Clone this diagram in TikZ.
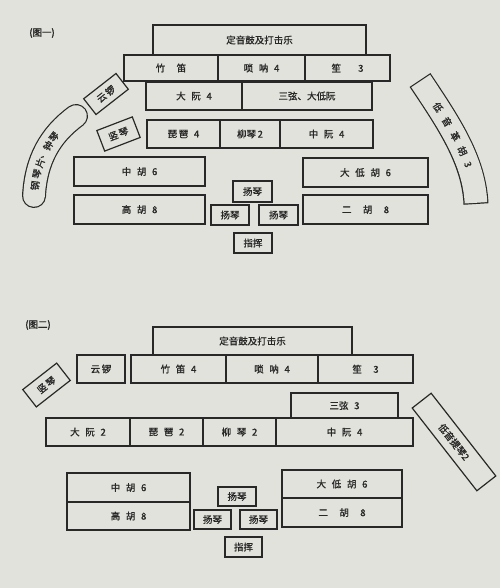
\documentclass[tikz,border=0pt]{standalone}
\usepackage{fontspec}
\newfontfamily\cjk[FakeBold=1.2]{Noto Sans CJK SC}
\definecolor{paper}{RGB}{226,226,220}
\definecolor{ink}{RGB}{40,40,40}
\newcommand\mylbl{\cjk\fontsize{9.5}{10}\selectfont}
\newcommand\mgap{\hspace{0.6em}}
\tikzset{
  box/.style 2 args={draw=ink, line width=1.2pt, minimum width=#1pt, minimum height=#2pt,
    inner sep=0pt, font=\mylbl, text=ink},
  archar/.style={font=\mylbl, text=ink, inner sep=0pt, sloped},
  title/.style={font=\mylbl, text=ink, inner sep=0pt}
}
\begin{document}
\begin{tikzpicture}[x=1pt, y=-1pt]
\fill[paper] (0,0) rectangle (500,588);
\useasboundingbox (0,0) rectangle (500,588);

% ---------------- Diagram 1 ----------------
\node[title] (t1) at (42,33) {(图一)};
\node[box={213}{30}] (a1) at (259.5,40) {定音鼓及打击乐};
\node[box={94}{26}] (a2) at (171,68) {竹\mgap\mgap 笛};
\node[box={87}{26}] (a3) at (261.5,68) {唢\mgap 呐\mgap 4};
\node[box={85}{26}] (a4) at (347.5,68) {笙\mgap\mgap\mgap 3};
\node[box={96}{28}] (a5) at (194,96) {大\mgap 阮\mgap 4};
\node[box={130}{28}] (a6) at (307,96) {三弦、大低阮};
\node[box={73}{28}] (a7) at (183.5,134) {琵\,琶\mgap 4};
\node[box={60}{28}] (a8) at (250,134) {柳琴\,2};
\node[box={93}{28}] (a9) at (326.5,134) {中\mgap 阮\mgap 4};
\node[box={41}{20}, rotate=38] (a10) at (106,94) {云\,锣};
\node[box={38}{22}, rotate=21] (a11) at (118.5,134) {竖\,琴};
\node[box={131}{29}] (a12) at (139.5,171.5) {中\mgap 胡\mgap 6};
\node[box={131}{29}] (a13) at (139.5,209.5) {高\mgap 胡\mgap 8};
\node[box={125}{29}] (a14) at (365.5,172.5) {大\mgap 低\mgap 胡\mgap 6};
\node[box={125}{29}] (a15) at (365.5,209.5) {二\mgap\mgap 胡\mgap\mgap 8};
\node[box={39}{21}] (a16) at (252.5,191.5) {扬琴};
\node[box={38}{20}] (a17) at (230,215) {扬琴};
\node[box={39}{20}] (a18) at (278.5,215) {扬琴};
\node[box={38}{20}] (a19) at (253,243) {指挥};

% left arc band
\coordinate (la1) at (34,196);
\coordinate (la2) at (36,160);
\coordinate (la3) at (50,135);
\coordinate (la4) at (76,116);
\draw[ink, line width=24pt, line cap=round] (la1) .. controls (la2) and (la3) .. (la4);
\draw[paper, line width=21.6pt, line cap=round] (la1) .. controls (la2) and (la3) .. (la4);
\path (la1) .. controls (la2) and (la3) .. (la4)
  node[archar, pos=0.10] (lc1) {钢}
  node[archar, pos=0.22] (lc2) {琴}
  node[archar, pos=0.34] (lc3) {片}
  node[archar, pos=0.44] (lc4) {、}
  node[archar, pos=0.55] (lc5) {钟}
  node[archar, pos=0.67] (lc6) {琴};

% right arc band
\coordinate (ra1) at (420,80);
\coordinate (ra2) at (448,122);
\coordinate (ra3) at (474,160);
\coordinate (ra4) at (476,204);
\draw[ink, line width=25pt] (ra1) .. controls (ra2) and (ra3) .. (ra4);
\draw[paper, line width=22.6pt, shorten <=1.2pt, shorten >=1.2pt] (ra1) .. controls (ra2) and (ra3) .. (ra4);
\path (ra1) .. controls (ra2) and (ra3) .. (ra4)
  node[archar, pos=0.22] (rc1) {低}
  node[archar, pos=0.34] (rc2) {音}
  node[archar, pos=0.46] (rc3) {革}
  node[archar, pos=0.58] (rc4) {胡}
  node[archar, pos=0.69] (rc5) {3};

% ---------------- Diagram 2 ----------------
\node[title] (t2) at (38,325) {(图二)};
\node[box={199}{28}] (b1) at (252.5,341) {定音鼓及打击乐};
\node[box={48}{28}] (b2) at (101,369) {云\,锣};
\node[box={95}{28}] (b3) at (178.5,369) {竹\mgap 笛\mgap 4};
\node[box={92}{28}] (b4) at (272,369) {唢\mgap 呐\mgap 4};
\node[box={95}{28}] (b5) at (365.5,369) {笙\mgap\mgap 3};
\node[box={43}{22}, rotate=38] (b6) at (46.5,385) {竖\,琴};
\node[box={107}{25}] (b7) at (344.5,405.5) {三弦\mgap 3};
\node[box={84}{28}] (b8) at (88,432) {大\mgap 阮\mgap 2};
\node[box={73}{28}] (b9) at (166.5,432) {琵\mgap 琶\mgap 2};
\node[box={73}{28}] (b10) at (239.5,432) {柳\mgap 琴\mgap 2};
\node[box={137}{28}] (b11) at (344.5,432) {中\mgap 阮\mgap 4};
\node[box={105}{24}, rotate=-52] (b12) at (454,442) {低音提琴2};
\node[box={123}{29}] (b13) at (128.5,487.5) {中\mgap 胡\mgap 6};
\node[box={123}{28}] (b14) at (128.5,516) {高\mgap 胡\mgap 8};
\node[box={120}{28}] (b15) at (342,484) {大\mgap 低\mgap 胡\mgap 6};
\node[box={120}{29}] (b16) at (342,512.5) {二\mgap\mgap 胡\mgap\mgap 8};
\node[box={38}{19}] (b17) at (237,496.5) {扬琴};
\node[box={37}{19}] (b18) at (212.5,519.5) {扬琴};
\node[box={37}{19}] (b19) at (258.5,519.5) {扬琴};
\node[box={37}{20}] (b20) at (243.5,547) {指挥};
\end{tikzpicture}
\end{document}
